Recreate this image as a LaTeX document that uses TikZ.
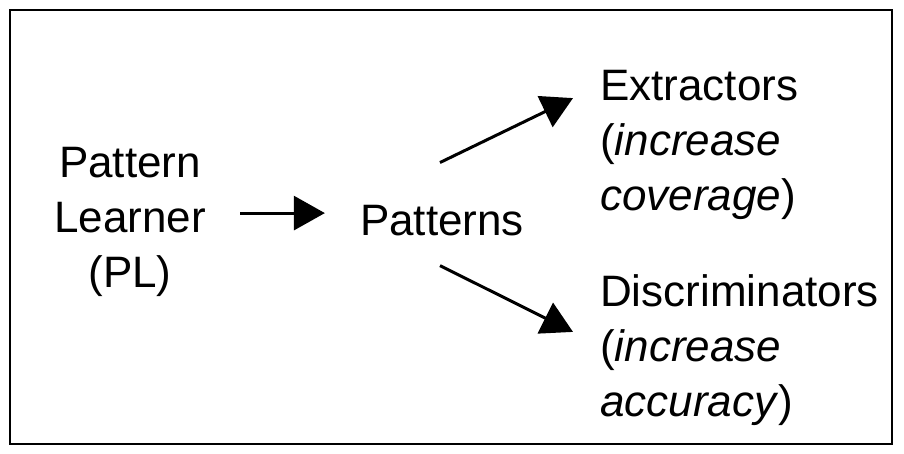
\documentclass[tikz,border=0pt]{standalone}
\usepackage{fontspec}
\setmainfont{Liberation Sans}
\usetikzlibrary{arrows.meta}
\begin{document}
\begin{tikzpicture}[x=1pt,y=1pt,
  txt/.style={inner sep=0pt, font=\fontsize{44}{55}\selectfont},
  arr/.style={line width=3pt, -{Triangle[length=31pt,width=34pt]}}]
\useasboundingbox (0,0) rectangle (904,-453);
\draw[line width=2pt] (10,-10) rectangle (892,-444);
% blocks of text
\node[txt, align=center, anchor=north] (lrn) at (130,-146.7) {Pattern\\Learner\\(PL)};
\node[txt, anchor=base] (pat) at (442,-235) {Patterns};
\node[txt, align=left, anchor=north west] (ext) at (600,-69.7) {Extractors\\(\textit{increase}\\\textit{coverage})};
\node[txt, align=left, anchor=north west] (dis) at (600,-274.7) {Discriminators\\(\textit{increase}\\\textit{accuracy})};
% arrows
\coordinate (patin) at ([yshift=7pt]pat.west);
\draw[arr, shorten <=34pt, shorten >=35pt] (patin -| lrn.east) -- (patin);
\draw[arr] ([shift={(-2pt,42pt)}]pat.north) -- ([shift={(-27pt,46.5pt)}]ext.west);
\draw[arr] ([shift={(-2pt,-30pt)}]pat.south) -- ([shift={(-27pt,18.5pt)}]dis.west);
\end{tikzpicture}
\end{document}
